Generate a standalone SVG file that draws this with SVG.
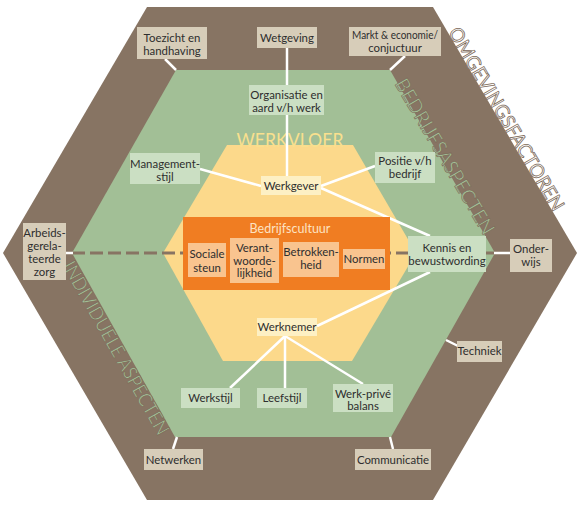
<svg xmlns="http://www.w3.org/2000/svg" width="580" height="508" viewBox="0 0 580 508">
<style>
.t{font-family:Lato,"Liberation Sans",sans-serif;font-size:11.4px;fill:#2e2e2e;text-anchor:middle}
.ob{fill:#d7cdb9}
.gb{fill:#cbdfc3}
.yb{fill:#fdf0c4}
.ib{fill:#f9c48f}
.w{stroke:#fff;stroke-width:2.5;fill:none}
.big{font-family:Lato,"Liberation Sans",sans-serif;text-anchor:middle}
</style>
<rect width="580" height="508" fill="#fff"/>
<g id="background">
<polygon points="147,7 433,7 577,253 433,500 147,500 3,253" fill="#877463"/>
<polygon points="176,70 390,70 495,253 391,437 175,437 72,253" fill="#a2bf96"/>
<polygon points="227,145 353,145 416,253 352,361 223,361 163,253" fill="#fcd98b"/>
<text class="big" x="290" y="147" font-size="20" textLength="107" lengthAdjust="spacingAndGlyphs" fill="#f9e08e">WERKVLOER</text>
<text class="big" transform="translate(506.5,119) rotate(59.6)" y="0" dy="0.35em" font-size="19.5" textLength="209" lengthAdjust="spacingAndGlyphs" fill="#fff" stroke="#7a6756" stroke-width="0.8">OMGEVINGSFACTOREN</text>
<text class="big" transform="translate(445,156.5) rotate(59.6)" y="0" dy="0.35em" font-size="19.5" textLength="177" lengthAdjust="spacingAndGlyphs" fill="#a2bf96" stroke="#7a6756" stroke-width="0.6">BEDRIJFSASPECTEN</text>
<text class="big" transform="translate(116,348) rotate(60.5)" y="0" dy="0.35em" font-size="19.5" textLength="196" lengthAdjust="spacingAndGlyphs" fill="#a2bf96" stroke="#7a6756" stroke-width="0.6">INDIVIDUELE ASPECTEN</text>
</g>
<g id="connectors">
<line x1="72" y1="253" x2="495" y2="253" stroke="#877463" stroke-width="3" stroke-dasharray="13,5"/>
<line class="w" x1="66" y1="253" x2="73" y2="253"/>
<line class="w" x1="494" y1="253" x2="510" y2="253"/>
<line class="w" x1="165" y1="59" x2="176" y2="70"/>
<line class="w" x1="287" y1="47" x2="287" y2="176"/>
<line class="w" x1="405" y1="56" x2="390" y2="70"/>
<line class="w" x1="200" y1="169" x2="261" y2="186"/>
<line class="w" x1="375" y1="166" x2="321" y2="186"/>
<line class="w" x1="321" y1="188" x2="430" y2="236"/>
<line class="w" x1="430" y1="272" x2="317" y2="326"/>
<line class="w" x1="285" y1="336" x2="230" y2="388"/>
<line class="w" x1="285" y1="336" x2="285" y2="388"/>
<line class="w" x1="285" y1="336" x2="363" y2="384"/>
<line class="w" x1="446" y1="340" x2="458" y2="346"/>
<line class="w" x1="177" y1="437" x2="173" y2="449"/>
<line class="w" x1="390" y1="437" x2="393" y2="449"/>
</g>
<g id="toezicht"><rect class="ob" x="137" y="27" width="70" height="32"/><text class="t" x="172" y="41.5">Toezicht en</text><text class="t" x="172" y="54.5">handhaving</text></g>
<g id="wetgeving"><rect class="ob" x="257" y="27" width="60" height="21"/><text class="t" x="287" y="41.5">Wetgeving</text></g>
<g id="markt"><rect class="ob" x="349" y="27" width="92" height="29"/><text class="t" x="395" y="39" textLength="86" lengthAdjust="spacingAndGlyphs">Markt &amp; economie/</text><text class="t" x="395" y="52">conjuctuur</text></g>
<g id="arbeids"><rect class="ob" x="23" y="223" width="43" height="57"/><text class="t" x="44.5" y="236.5">Arbeids-</text><text class="t" x="44.5" y="249.7">gerela-</text><text class="t" x="44.5" y="263">teerde</text><text class="t" x="44.5" y="276">zorg</text></g>
<g id="onderwijs"><rect class="ob" x="510" y="239" width="42" height="33"/><text class="t" x="531" y="253">Onder-</text><text class="t" x="531" y="265.5">wijs</text></g>
<g id="techniek"><rect class="ob" x="457" y="341" width="45" height="21"/><text class="t" x="479.5" y="355">Techniek</text></g>
<g id="netwerken"><rect class="ob" x="144" y="449" width="59" height="21"/><text class="t" x="173.5" y="463.5">Netwerken</text></g>
<g id="communicatie"><rect class="ob" x="355" y="449" width="76" height="21"/><text class="t" x="393" y="463.5">Communicatie</text></g>
<g id="organisatie"><rect class="gb" x="249" y="85" width="75" height="30"/><text class="t" x="286.5" y="99">Organisatie en</text><text class="t" x="286.5" y="112">aard v/h werk</text></g>
<g id="managementstijl"><rect class="gb" x="130" y="153" width="70" height="31"/><text class="t" x="165" y="167.5">Management-</text><text class="t" x="165" y="180.5">stijl</text></g>
<g id="positie"><rect class="gb" x="375" y="152" width="60" height="31"/><text class="t" x="405" y="164.5">Positie v/h</text><text class="t" x="405" y="178">bedrijf</text></g>
<g id="werkgever"><rect class="yb" x="261" y="176" width="60" height="19"/><text class="t" x="291" y="190">Werkgever</text></g>
<g id="kennis"><rect class="gb" x="408" y="236" width="78" height="36"/><text class="t" x="447" y="252">Kennis en</text><text class="t" x="447" y="264.5">bewustwording</text></g>
<g id="werknemer"><rect class="yb" x="257" y="318" width="60" height="18"/><text class="t" x="287" y="331">Werknemer</text></g>
<g id="werkstijl"><rect class="gb" x="181" y="388" width="59" height="20"/><text class="t" x="210.5" y="402">Werkstijl</text></g>
<g id="leefstijl"><rect class="gb" x="257" y="388" width="50" height="20"/><text class="t" x="282" y="402">Leefstijl</text></g>
<g id="werkprive"><rect class="gb" x="333" y="384" width="60" height="28"/><text class="t" x="363" y="397.5">Werk-privé</text><text class="t" x="363" y="410">balans</text></g>
<g id="bedrijfscultuur"><rect x="183" y="217" width="207" height="73" fill="#f07d22"/><text class="t" x="290" y="232.5" style="fill:#fde3c2;font-size:12.5px">Bedrijfscultuur</text></g>
<g id="sociale"><rect class="ib" x="188" y="243" width="38" height="34"/><text class="t" x="207" y="258">Sociale</text><text class="t" x="207" y="271.5">steun</text></g>
<g id="verantwoordelijkheid"><rect class="ib" x="230" y="238" width="49" height="45"/><text class="t" x="254.5" y="252">Verant-</text><text class="t" x="254.5" y="264.5">woorde-</text><text class="t" x="254.5" y="277">lijkheid</text></g>
<g id="betrokkenheid"><rect class="ib" x="283" y="242" width="56" height="35"/><text class="t" x="311" y="256">Betrokken-</text><text class="t" x="311" y="269">heid</text></g>
<g id="normen"><rect class="ib" x="343" y="249" width="42" height="20"/><text class="t" x="364" y="262.5">Normen</text></g>
</svg>
